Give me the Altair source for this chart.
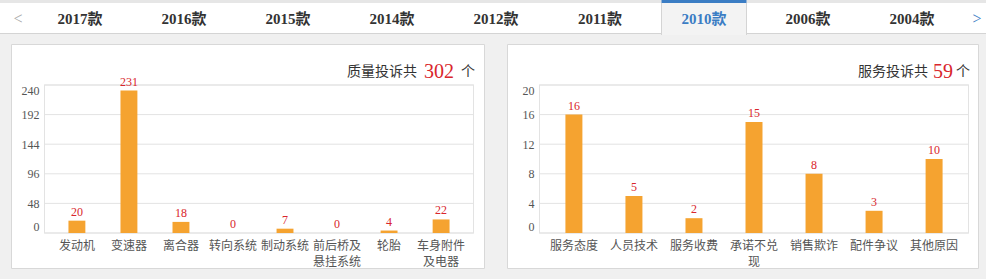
import altair as alt
import pandas as pd

# ---------------- data ----------------
tabs = ["2017款", "2016款", "2015款", "2014款", "2012款", "2011款", "2010款", "2006款", "2004款"]
active_tab = "2010款"

quality_cats = ["发动机", "变速器", "离合器", "转向系统", "制动系统", "前后桥及悬挂系统", "轮胎", "车身附件及电器"]
quality_vals = [20, 231, 18, 0, 7, 0, 4, 22]
quality_ticks = [0, 48, 96, 144, 192, 240]
quality_title = ["质量投诉共", "个"]

service_cats = ["服务态度", "人员技术", "服务收费", "承诺不兑现", "销售欺诈", "配件争议", "其他原因"]
service_vals = [16, 5, 2, 15, 8, 3, 10]
service_ticks = [0, 4, 8, 12, 16, 20]
service_title = ["服务投诉共", "个"]

# ---------------- style ----------------
W, H = 986, 279
BG = "#f0f0f0"
ORANGE = "#f5a330"
RED = "#d9262c"
BLUE = "#3b7dc4"
SERIF = "Liberation Serif, Noto Sans CJK SC"
CJK = "Noto Sans CJK SC"
ONE = pd.DataFrame({"d": [0]})


def deco_rect(x, x2, y, y2, fill, stroke=None):
    kw = dict(fill=fill)
    if stroke:
        kw.update(stroke=stroke, strokeWidth=1)
    return alt.Chart(ONE).mark_rect(**kw).encode(
        x=alt.value(x), x2=alt.value(x2), y=alt.value(y), y2=alt.value(y2))


def deco_text(txt, x, y, **kw):
    return alt.Chart(pd.DataFrame({"t": [txt]})).mark_text(**kw).encode(
        x=alt.value(x), y=alt.value(y), text="t:N")


def panel(cats, vals, ticks, x0, x1, y0, y1, pin, pout, title, tx_right, num_left, unit_left):
    df = pd.DataFrame({"cat": cats, "count": vals})
    tdf = pd.DataFrame({"tick": ticks})
    xs = alt.Scale(domain=cats, range=[x0, x1], paddingInner=pin, paddingOuter=pout)
    ys = alt.Scale(domain=[ticks[0], ticks[-1]], range=[y1, y0], nice=False)
    yaxis = alt.Axis(orient="left", offset=-x0, values=ticks, title=None, grid=False,
                     domain=False, ticks=False, tickSize=0, labelPadding=5,
                     labelFont=SERIF, labelFontSize=12, labelColor="#555",
                     labelFlush=True, zindex=1)
    xaxis = alt.Axis(orient="bottom", offset=-(H - y1), title=None, grid=False,
                     domain=False, ticks=False, tickSize=0, labelPadding=7,
                     labelFont=CJK, labelFontSize=12, labelColor="#555", labelAngle=0,
                     labelLineHeight=16, labelOverlap=False,
                     labelExpr="length(datum.label) > 4 ? [substring(datum.label, 0, 4), substring(datum.label, 4)] : datum.label",
                     zindex=1)
    X = alt.X("cat:N", scale=xs, axis=xaxis)
    grid = alt.Chart(tdf).mark_rule(color="#e3e3e3", strokeWidth=1).encode(
        y=alt.Y("tick:Q", scale=ys, axis=yaxis), x=alt.value(x0), x2=alt.value(x1))
    border = deco_rect(x0 + 0.5, x1 - 0.5, y0, y1, "transparent", "#e3e3e3")
    bars = alt.Chart(df).mark_bar(color=ORANGE).encode(
        x=X, y=alt.Y("count:Q", scale=ys, axis=yaxis))
    labels = alt.Chart(df).mark_text(color=RED, font=SERIF, fontSize=12,
                                     baseline="bottom", dy=-2).encode(
        x=X, y=alt.Y("count:Q", scale=ys, axis=yaxis), text="count:Q")
    plot = alt.layer(grid, border, bars, labels)
    t1 = deco_text(title[0], tx_right, 72, align="right", font=CJK, fontSize=14, color="#333")
    num = alt.Chart(df).transform_aggregate(total="sum(count)").mark_text(
        align="left", font=SERIF, fontSize=20, color=RED).encode(
        x=alt.value(num_left), y=alt.value(72), text="total:Q")
    t2 = deco_text(title[1], unit_left, 72, align="left", font=CJK, fontSize=14, color="#333")
    return plot, t1, num, t2


left_plot, l1, lnum, l2 = panel(quality_cats, quality_vals, quality_ticks,
                                44, 474, 85, 233, 0.675, 0.47,
                                quality_title, 417, 424, 461)
right_plot, r1, rnum, r2 = panel(service_cats, service_vals, service_ticks,
                                 539, 969, 85, 233, 0.717, 0.44,
                                 service_title, 928, 933, 956)

# ---------------- tab bar ----------------
tab_df = pd.DataFrame({"tab": tabs})
tab_scale = alt.Scale(domain=tabs, range=[28, 964], paddingInner=0, paddingOuter=0)
TX = alt.X("tab:N", scale=tab_scale, axis=None)
is_active = alt.datum.tab == active_tab

tab_white = deco_rect(0, W, 0, 33, "white")
tab_top = deco_rect(0, W, 0, 3, "#e6e6e6")
tab_line = alt.Chart(ONE).mark_rule(color="#d4d4d4", strokeWidth=1).encode(
    x=alt.value(0), x2=alt.value(W), y=alt.value(33.5))
act_bg = alt.Chart(tab_df).transform_filter(is_active).mark_bar(size=85, color="#f3f3f3").encode(
    x=TX, y=alt.value(0), y2=alt.value(35))
act_top = alt.Chart(tab_df).transform_filter(is_active).mark_bar(size=85, color=BLUE).encode(
    x=TX, y=alt.value(0), y2=alt.value(3))
act_l = alt.Chart(tab_df).transform_filter(is_active).mark_rule(color="#d4d4d4", xOffset=-42.5).encode(
    x=TX, y=alt.value(3), y2=alt.value(35))
act_r = alt.Chart(tab_df).transform_filter(is_active).mark_rule(color="#d4d4d4", xOffset=42.5).encode(
    x=TX, y=alt.value(3), y2=alt.value(35))
tab_text = alt.Chart(tab_df).mark_text(font=SERIF, fontSize=15, fontWeight="bold").encode(
    x=TX, y=alt.value(19), text="tab:N",
    color=alt.condition(is_active, alt.value(BLUE), alt.value("#333333")))
tabs_layer = alt.layer(act_bg, act_top, act_l, act_r, tab_text)
arrow_l = deco_text("<", 18, 19, font=SERIF, fontSize=16, color="#aaaaaa")
arrow_r = deco_text(">", 977, 19, font=SERIF, fontSize=16, color=BLUE)

# ---------------- panels ----------------
left_box = deco_rect(11.5, 484.5, 44.5, 268.5, "white", "#d8d8d8")
right_box = deco_rect(507.5, 978.5, 44.5, 268.5, "white", "#d8d8d8")

chart = alt.layer(
    tab_white, tab_top, tab_line, tabs_layer, arrow_l, arrow_r,
    left_box, right_box,
    left_plot, l1, lnum, l2,
    right_plot, r1, rnum, r2,
).resolve_scale(x="independent", y="independent").properties(
    width=W, height=H, padding=0, background=BG,
    autosize=alt.AutoSizeParams(type="none"),
).configure_view(stroke=None)

chart.save("out.html", embed_options={"renderer": "svg", "actions": False})
